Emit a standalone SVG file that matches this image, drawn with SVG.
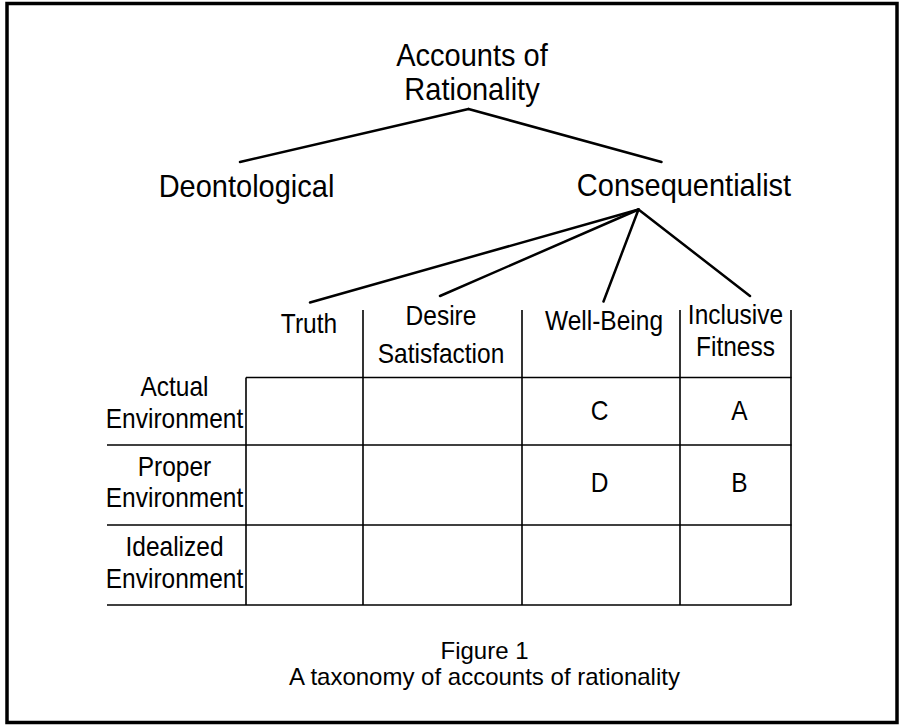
<svg xmlns="http://www.w3.org/2000/svg" width="904" height="726" viewBox="0 0 904 726">
  <style>
    text { font-family: "Liberation Sans", Arial, sans-serif; fill: #000; text-anchor: middle; }
    .big { font-size: 29px; }
    .mid { font-size: 24.5px; }
    .cap { font-size: 24px; }
    .conn { stroke: #000; stroke-width: 2.5; stroke-linecap: round; fill: none; }
    .grid { stroke: #000; stroke-width: 1.6; fill: none; }
  </style>
  <rect x="0" y="0" width="904" height="726" fill="#fff"/>
  <rect x="7" y="3.5" width="890" height="719" fill="none" stroke="#000" stroke-width="3.5"/>

  <g id="root">
    <text class="big" transform="translate(472,66) scale(1,1.1)">Accounts of</text>
    <text class="big" transform="translate(472,100) scale(1,1.1)">Rationality</text>
  </g>
  <g id="deontological">
    <text class="big" transform="translate(246.5,196.5) scale(1,1.1)">Deontological</text>
  </g>
  <g id="consequentialist">
    <text class="big" transform="translate(684,196) scale(1,1.1)">Consequentialist</text>
  </g>
  <g id="truth">
    <text class="mid" transform="translate(309,333) scale(1,1.1)">Truth</text>
  </g>
  <g id="desire">
    <text class="mid" transform="translate(441,325) scale(1,1.1)">Desire</text>
    <text class="mid" transform="translate(441,362.5) scale(1,1.1)">Satisfaction</text>
  </g>
  <g id="wellbeing">
    <text class="mid" transform="translate(604,330) scale(1,1.1)">Well-Being</text>
  </g>
  <g id="fitness">
    <text class="mid" transform="translate(735.5,324) scale(1,1.1)">Inclusive</text>
    <text class="mid" transform="translate(735.5,356) scale(1,1.1)">Fitness</text>
  </g>

  <g id="connectors">
    <line class="conn" x1="468.5" y1="109" x2="240" y2="162"/>
    <line class="conn" x1="468.5" y1="109" x2="661.5" y2="162"/>
    <line class="conn" x1="638.5" y1="209.5" x2="310" y2="302.5"/>
    <line class="conn" x1="638.5" y1="209.5" x2="440" y2="296"/>
    <line class="conn" x1="638.5" y1="209.5" x2="603.5" y2="301.5"/>
    <line class="conn" x1="638.5" y1="209.5" x2="750" y2="296"/>
  </g>

  <g id="table">
    <g class="grid">
      <line x1="246" y1="377.5" x2="791.5" y2="377.5"/>
      <line x1="107" y1="445" x2="791.5" y2="445"/>
      <line x1="107" y1="525" x2="791.5" y2="525"/>
      <line x1="107" y1="605" x2="791.5" y2="605"/>
      <line x1="246" y1="377.5" x2="246" y2="605"/>
      <line x1="363" y1="310" x2="363" y2="605"/>
      <line x1="522" y1="310" x2="522" y2="605"/>
      <line x1="680" y1="310" x2="680" y2="605"/>
      <line x1="791" y1="310" x2="791" y2="605"/>
    </g>
    <g id="row-actual">
      <text class="mid" transform="translate(174.5,396) scale(1,1.1)">Actual</text>
      <text class="mid" transform="translate(174.5,428) scale(1,1.1)">Environment</text>
    </g>
    <g id="row-proper">
      <text class="mid" transform="translate(174.5,476) scale(1,1.1)">Proper</text>
      <text class="mid" transform="translate(174.5,507) scale(1,1.1)">Environment</text>
    </g>
    <g id="row-idealized">
      <text class="mid" transform="translate(174.5,556) scale(1,1.1)">Idealized</text>
      <text class="mid" transform="translate(174.5,587.5) scale(1,1.1)">Environment</text>
    </g>
    <g id="cells">
      <text class="mid" transform="translate(599.5,420) scale(1,1.1)">C</text>
      <text class="mid" transform="translate(739.5,420) scale(1,1.1)">A</text>
      <text class="mid" transform="translate(599.5,492) scale(1,1.1)">D</text>
      <text class="mid" transform="translate(739.5,492) scale(1,1.1)">B</text>
    </g>
  </g>

  <g id="caption">
    <text class="cap" x="484.5" y="659">Figure 1</text>
    <text class="cap" x="484.5" y="684.5">A taxonomy of accounts of rationality</text>
  </g>
</svg>
